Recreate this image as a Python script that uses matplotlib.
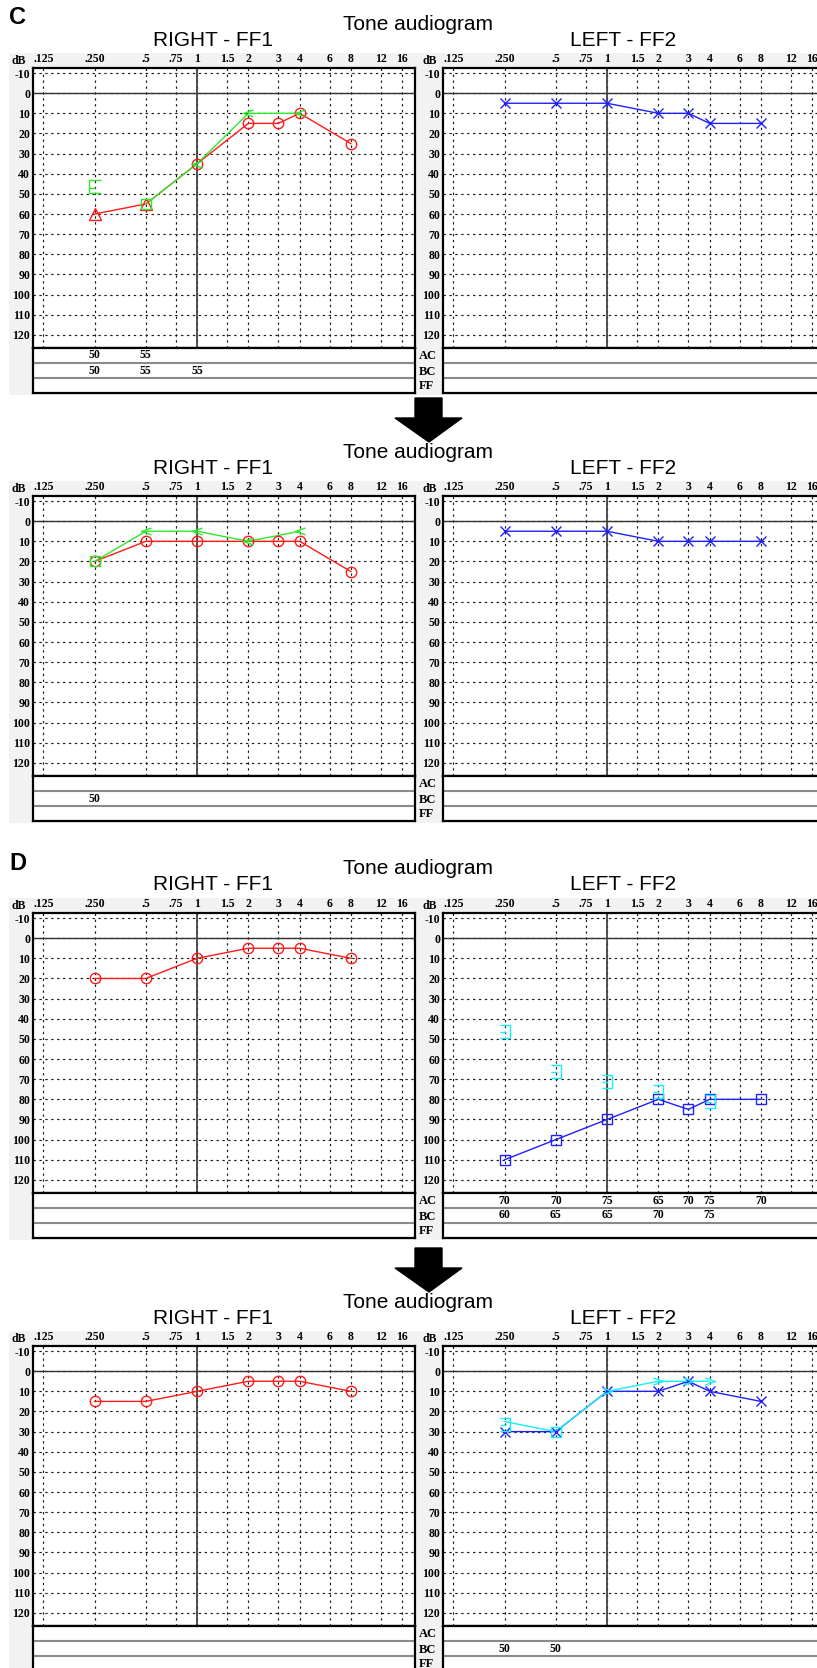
import matplotlib
matplotlib.use("Agg")
import matplotlib.pyplot as plt
from matplotlib.patches import Rectangle, Polygon
from matplotlib.path import Path

# figure size in pixels
W, H = 817, 1668

# axis values
freqs = [0.125, 0.25, 0.5, 0.75, 1, 1.5, 2, 3, 4, 6, 8, 12, 16]
freq_labels = ['.125', '.250', '.5', '.75', '1', '1.5', '2', '3', '4', '6', '8', '12', '16']
levels = [-10, 0, 10, 20, 30, 40, 50, 60, 70, 80, 90, 100, 110, 120]
table_rows = ['AC', 'BC', 'FF']

# ---- C, before ----
c1_r_red_f = [0.25, 0.5, 1, 2, 3, 4, 8]
c1_r_red_db = [60, 55, 35, 15, 15, 10, 25]
c1_r_red_sym = ['tri', 'tri', 'o', 'o', 'o', 'o', 'o']
c1_r_grn_f = [0.5, 1, 2, 4]
c1_r_grn_db = [55, 35, 10, 10]
c1_r_grn_sym = ['s', '<', '<', '<']
c1_r_grn2_f = [0.25]
c1_r_grn2_db = [45]
c1_r_grn2_sym = ['[']
c1_l_blu_f = [0.25, 0.5, 1, 2, 3, 4, 8]
c1_l_blu_db = [5, 5, 5, 10, 10, 15, 15]
c1_l_blu_sym = ['x'] * 7
c1_r_tab_ac = {0.25: 50, 0.5: 55}
c1_r_tab_bc = {0.25: 50, 0.5: 55, 1: 55}

# ---- C, after ----
c2_r_red_f = [0.25, 0.5, 1, 2, 3, 4, 8]
c2_r_red_db = [20, 10, 10, 10, 10, 10, 25]
c2_r_red_sym = ['o'] * 7
c2_r_grn_f = [0.25, 0.5, 1, 2, 4]
c2_r_grn_db = [20, 5, 5, 10, 5]
c2_r_grn_sym = ['s', '<', '<', '<', '<']
c2_l_blu_f = [0.25, 0.5, 1, 2, 3, 4, 8]
c2_l_blu_db = [5, 5, 5, 10, 10, 10, 10]
c2_l_blu_sym = ['x'] * 7
c2_r_tab_bc = {0.25: 50}

# ---- D, before ----
d1_r_red_f = [0.25, 0.5, 1, 2, 3, 4, 8]
d1_r_red_db = [20, 20, 10, 5, 5, 5, 10]
d1_r_red_sym = ['o'] * 7
d1_l_blu_f = [0.25, 0.5, 1, 2, 3, 4, 8]
d1_l_blu_db = [110, 100, 90, 80, 85, 80, 80]
d1_l_blu_sym = ['s'] * 7
d1_l_cyn_f = [0.25, 0.5, 1, 2, 4]
d1_l_cyn_db = [45, 65, 70, 75, 80]
d1_l_cyn_sym = [']'] * 5
d1_l_tab_ac = {0.25: 70, 0.5: 70, 1: 75, 2: 65, 3: 70, 4: 75, 8: 70}
d1_l_tab_bc = {0.25: 60, 0.5: 65, 1: 65, 2: 70, 4: 75}

# ---- D, after ----
d2_r_red_f = [0.25, 0.5, 1, 2, 3, 4, 8]
d2_r_red_db = [15, 15, 10, 5, 5, 5, 10]
d2_r_red_sym = ['o'] * 7
d2_l_blu_f = [0.25, 0.5, 1, 2, 3, 4, 8]
d2_l_blu_db = [30, 30, 10, 10, 5, 10, 15]
d2_l_blu_sym = ['x'] * 7
d2_l_cyn_f = [0.25, 0.5, 1, 2, 3, 4]
d2_l_cyn_db = [25, 30, 10, 5, 5, 5]
d2_l_cyn_sym = [']', 's', '>', '>', '>', '>']
d2_l_tab_bc = {0.25: 50, 0.5: 50}

RED = '#ff1a1a'
GREEN = '#2ee82e'
BLUE = '#1f1fff'
CYAN = '#14f0f5'


def px_marker(verts, codes):
    # verts in pixels (y up); returns path marker and size in points
    m = max(max(abs(x), abs(y)) for x, y in verts)
    return Path(verts, codes), 2 * m * 0.72


MV, LN = Path.MOVETO, Path.LINETO
chev_l = px_marker([(5, 3.5), (-5, 0), (5, -3.5)], [MV, LN, LN])
chev_r = px_marker([(-5, 3.5), (5, 0), (-5, -3.5)], [MV, LN, LN])
brk_l = px_marker([(6, 4), (-6, 4), (-6, -9), (6, -9), (-6, -4), (0, -4)],
                  [MV, LN, LN, LN, MV, LN])
brk_r = px_marker([(-5, 4.5), (5, 4.5), (5, -8.5), (-5, -8.5), (-5, -3), (1, -3)],
                  [MV, LN, LN, LN, MV, LN])

MARKERS = {
    'o': ('o', 7.5),
    'x': ('x', 7.5),
    's': ('s', 7),
    'tri': ('^', 8),
    '<': chev_l,
    '>': chev_r,
    '[': brk_l,
    ']': brk_r,
}

SERIF = 'Liberation Serif'
SANS = 'Liberation Sans'

fig = plt.figure(figsize=(W / 100, H / 100), dpi=100)
fig.patch.set_facecolor('white')


def box(x0, y0, x1, y1):
    return [x0 / W, 1 - y1 / H, (x1 - x0) / W, (y1 - y0) / H]


def fx(x):
    return x / W


def fy(y):
    return 1 - y / H


def draw_series(ax, f, db, sym, color, connect=True):
    if connect:
        ax.plot(f, db, color=color, lw=1.0, zorder=3)
    for xi, yi, s in zip(f, db, sym):
        m, ms = MARKERS[s]
        ax.plot([xi], [yi], linestyle='none', marker=m, ms=ms, mfc='none',
                mec=color, mew=1.0, zorder=4)


def make_panel(ox, oy, title, series, tab_ac=None, tab_bc=None, row_labels=False):
    ax = fig.add_axes(box(33 + ox, 68 + oy, 415 + ox, 348 + oy))
    ax.set_xscale('log', base=2)
    ax.set_xlim(2 ** -3.2, 2 ** 4.25)
    ax.set_ylim(126.5, -12.5)
    ax.set_xticks(freqs, freq_labels)
    ax.set_yticks(levels, [str(v) for v in levels])
    ax.minorticks_off()
    ax.xaxis.tick_top()
    ax.tick_params(axis='x', length=0, pad=2.2)
    ax.tick_params(axis='y', length=0, pad=2)
    for lab in ax.get_xticklabels() + ax.get_yticklabels():
        lab.set_fontfamily(SERIF)
        lab.set_fontweight('bold')
        lab.set_fontsize(8.5)
    ax.grid(True, linestyle=(0, (2, 3)), color='#1a1a1a', lw=0.85)
    ax.axhline(0, color='#333333', lw=1.0, zorder=2)
    ax.axvline(1, color='#444444', lw=1.3, zorder=2)
    for s in ax.spines.values():
        s.set_linewidth(1.6)
    for f, db, sym, color, connect in series:
        draw_series(ax, f, db, sym, color, connect)

    axt = fig.add_axes(box(33 + ox, 348 + oy, 415 + ox, 393 + oy))
    axt.set_xscale('log', base=2)
    axt.set_xlim(2 ** -3.2, 2 ** 4.25)
    axt.set_ylim(3, 0)
    axt.set_xticks([])
    axt.set_yticks([])
    axt.minorticks_off()
    for s in axt.spines.values():
        s.set_linewidth(1.6)
    for r in (1, 2):
        axt.axhline(r, color='#8a8a8a', lw=1.5)
    for row, vals in ((0, tab_ac), (1, tab_bc)):
        if vals:
            for f, v in vals.items():
                axt.text(f, row + 0.5, str(v), ha='center', va='center',
                         fontfamily=SERIF, fontweight='bold', fontsize=8.5)

    fig.text(fx(12 + ox), fy(61 + oy), 'dB', ha='left', va='center',
             fontfamily=SERIF, fontweight='bold', fontsize=8.5)
    fig.text(fx(213 + ox), fy(40 + oy), title, ha='center', va='center',
             fontfamily=SANS, fontsize=15)
    if row_labels:
        for lab, yc in zip(table_rows, (356, 372, 386)):
            fig.text(fx(ox + 9), fy(yc + oy), lab, ha='left', va='center',
                     fontfamily=SERIF, fontweight='bold', fontsize=9)


def make_group(oy, letter, right_series, left_series, r_ac=None, r_bc=None,
               l_ac=None, l_bc=None):
    fig.add_artist(Rectangle((fx(9), fy(395 + oy)), fx(W - 9), (395 - 53) / H,
                             transform=fig.transFigure, facecolor='#f2f2f2',
                             edgecolor='none', zorder=-5))
    if letter:
        fig.text(fx(9), fy(18 + oy), letter, ha='left', va='center',
                 fontfamily=SANS, fontweight='bold', fontsize=17)
    fig.text(fx(418), fy(24 + oy), 'Tone audiogram', ha='center', va='center',
             fontfamily=SANS, fontsize=15)
    make_panel(0, oy, 'RIGHT - FF1', right_series, r_ac, r_bc)
    make_panel(410, oy, 'LEFT - FF2', left_series, l_ac, l_bc, row_labels=True)


def down_arrow(oy):
    pts = [(415, oy - 30), (442, oy - 30), (442, oy - 10), (462, oy - 10),
           (429, oy + 14), (395, oy - 10), (415, oy - 10)]
    fig.add_artist(Polygon([(fx(x), fy(y)) for x, y in pts], closed=True,
                           transform=fig.transFigure, facecolor='black',
                           edgecolor='black', zorder=5))


group_y = [0, 428, 845, 1278]

make_group(group_y[0], 'C',
           [(c1_r_red_f, c1_r_red_db, c1_r_red_sym, RED, True),
            (c1_r_grn_f, c1_r_grn_db, c1_r_grn_sym, GREEN, True),
            (c1_r_grn2_f, c1_r_grn2_db, c1_r_grn2_sym, GREEN, False)],
           [(c1_l_blu_f, c1_l_blu_db, c1_l_blu_sym, BLUE, True)],
           r_ac=c1_r_tab_ac, r_bc=c1_r_tab_bc)

make_group(group_y[1], None,
           [(c2_r_red_f, c2_r_red_db, c2_r_red_sym, RED, True),
            (c2_r_grn_f, c2_r_grn_db, c2_r_grn_sym, GREEN, True)],
           [(c2_l_blu_f, c2_l_blu_db, c2_l_blu_sym, BLUE, True)],
           r_bc=c2_r_tab_bc)

make_group(group_y[2], 'D',
           [(d1_r_red_f, d1_r_red_db, d1_r_red_sym, RED, True)],
           [(d1_l_blu_f, d1_l_blu_db, d1_l_blu_sym, BLUE, True),
            (d1_l_cyn_f, d1_l_cyn_db, d1_l_cyn_sym, CYAN, False)],
           l_ac=d1_l_tab_ac, l_bc=d1_l_tab_bc)

make_group(group_y[3], None,
           [(d2_r_red_f, d2_r_red_db, d2_r_red_sym, RED, True)],
           [(d2_l_blu_f, d2_l_blu_db, d2_l_blu_sym, BLUE, True),
            (d2_l_cyn_f, d2_l_cyn_db, d2_l_cyn_sym, CYAN, True)],
           l_bc=d2_l_tab_bc)

down_arrow(group_y[1])
down_arrow(group_y[3])

fig.savefig('out.png', dpi=100)
